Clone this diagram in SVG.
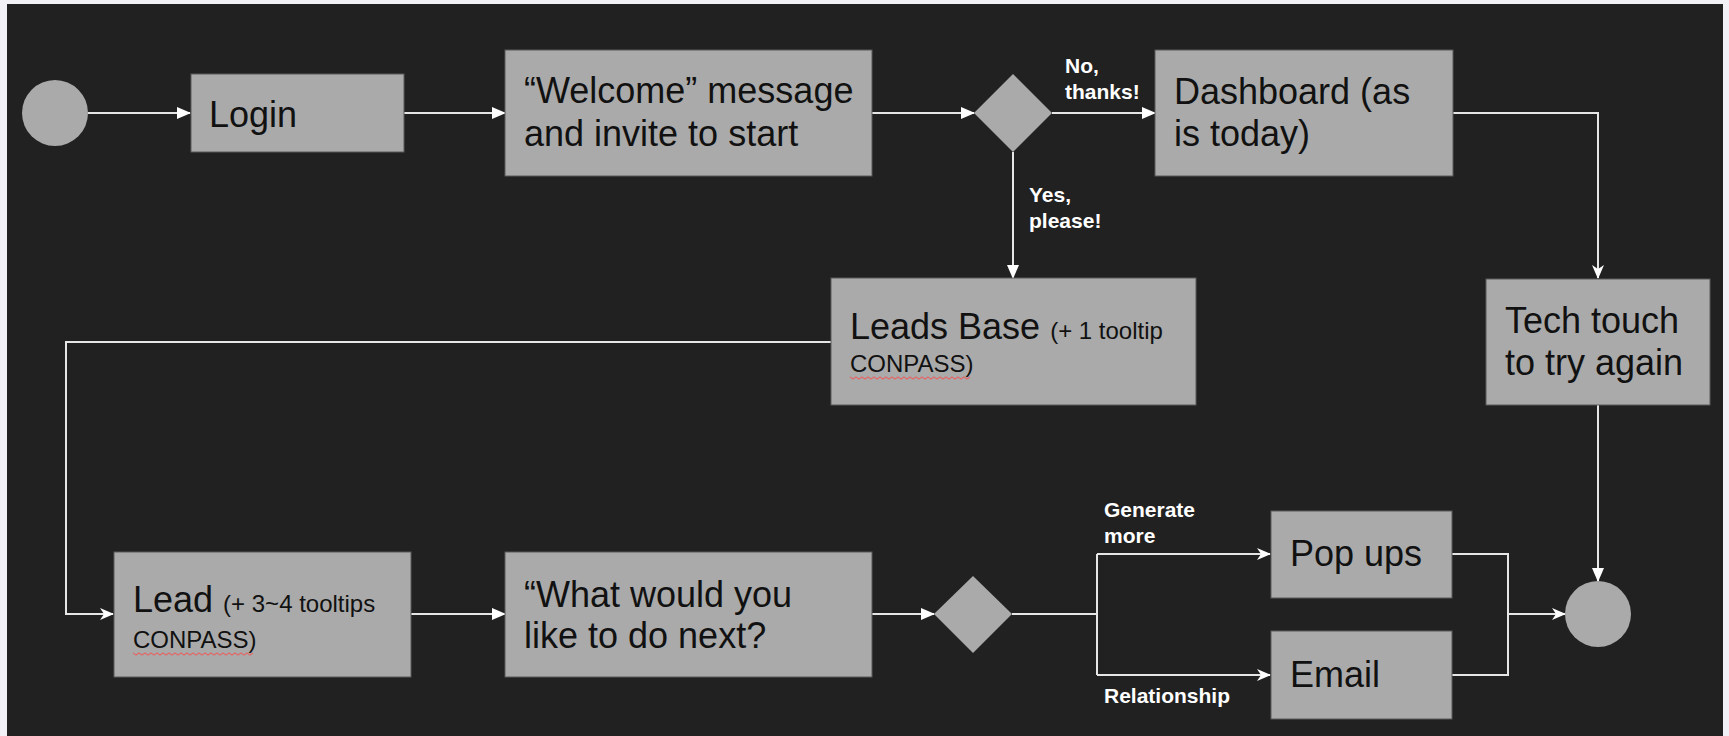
<svg xmlns="http://www.w3.org/2000/svg" width="1729" height="736" viewBox="0 0 1729 736">
<defs>
<style>
.box{fill:#aaaaaa;stroke:#5a5a5a;stroke-width:1}
.term{fill:#aaaaaa}
.t{font-family:"Liberation Sans",Arial,sans-serif;font-size:36px;fill:#111111}
.s{font-size:24px}
.lbl{font-family:"Liberation Sans",Arial,sans-serif;font-size:21px;font-weight:bold;fill:#ffffff}
.c{fill:none;stroke:#e6e6e6;stroke-width:2}
.a{marker-end:url(#tri)}
.st{marker-end:url(#stealth)}
.wave{fill:none;stroke:#e06a6a;stroke-width:1.2}
</style>
<marker id="tri" viewBox="0 0 14 12" markerWidth="14" markerHeight="12" refX="13" refY="6" orient="auto" markerUnits="userSpaceOnUse">
<path d="M0,0 L14,6 L0,12 z" fill="#ffffff"/>
</marker>
<marker id="stealth" viewBox="0 0 14 12" markerWidth="14" markerHeight="12" refX="13" refY="6" orient="auto" markerUnits="userSpaceOnUse">
<path d="M0,0 L14,6 L0,12 L4,6 z" fill="#ffffff"/>
</marker>
</defs>
<rect x="0" y="0" width="1729" height="736" fill="#f1f1f6"/>
<rect x="7" y="4" width="1716" height="732" fill="#212121"/>

<g id="connectors">
<path class="c a" d="M88,113 H190"/>
<path class="c a" d="M404,113 H505"/>
<path class="c a" d="M872,113 H974"/>
<path class="c a" d="M1052,113 H1155"/>
<path class="c a" d="M1013,152 V278"/>
<path class="c st" d="M1453,113 H1598 V278"/>
<path class="c st" d="M831,342 H66 V614 H113"/>
<path class="c a" d="M411,614 H505"/>
<path class="c a" d="M872,614 H934"/>
<path class="c" d="M1012,614 H1097 M1097,554 V675"/>
<path class="c st" d="M1097,554 H1270"/>
<path class="c st" d="M1097,675 H1270"/>
<path class="c" d="M1452,554 H1508 V675 H1452"/>
<path class="c st" d="M1508,614 H1565"/>
<path class="c a" d="M1598,405 V581"/>
</g>

<g id="labels">
<text class="lbl" x="1065" y="73">No,</text>
<text class="lbl" x="1065" y="99">thanks!</text>
<text class="lbl" x="1029" y="202">Yes,</text>
<text class="lbl" x="1029" y="228">please!</text>
<text class="lbl" x="1104" y="517">Generate</text>
<text class="lbl" x="1104" y="543">more</text>
<text class="lbl" x="1104" y="703">Relationship</text>
</g>

<g id="start"><circle class="term" cx="55" cy="113" r="33"/></g>

<g id="login">
<rect class="box" x="191" y="74" width="213" height="78"/>
<text class="t" x="209" y="127">Login</text>
</g>

<g id="welcome">
<rect class="box" x="505" y="50" width="367" height="126"/>
<text class="t" x="524" y="103">“Welcome” message</text>
<text class="t" x="524" y="146">and invite to start</text>
</g>

<g id="decision1"><path class="term" d="M1013,74 L1052,113 L1013,152 L974,113 z"/></g>

<g id="dashboard">
<rect class="box" x="1155" y="50" width="298" height="126"/>
<text class="t" x="1174" y="104">Dashboard (as</text>
<text class="t" x="1174" y="146">is today)</text>
</g>

<g id="leads-base">
<rect class="box" x="831" y="278" width="365" height="127"/>
<text class="t" x="850" y="339">Leads Base <tspan class="s">(+ 1 tooltip</tspan></text>
<text class="t s" x="850" y="372">CONPASS)</text>
<path class="wave" d="M850,377 l3,2 l3,-2 l3,2 l3,-2 l3,2 l3,-2 l3,2 l3,-2 l3,2 l3,-2 l3,2 l3,-2 l3,2 l3,-2 l3,2 l3,-2 l3,2 l3,-2 l3,2 l3,-2 l3,2 l3,-2 l3,2 l3,-2 l3,2 l3,-2 l3,2 l3,-2 l3,2 l3,-2 l3,2 l3,-2 l3,2 l3,-2 l3,2 l3,-2 l3,2 l3,-2 l3,2 l3,-2"/>
</g>

<g id="tech-touch">
<rect class="box" x="1486" y="279" width="224" height="126"/>
<text class="t" x="1505" y="333">Tech touch</text>
<text class="t" x="1505" y="375">to try again</text>
</g>

<g id="lead">
<rect class="box" x="114" y="552" width="297" height="125"/>
<text class="t" x="133" y="612">Lead <tspan class="s">(+ 3~4 tooltips</tspan></text>
<text class="t s" x="133" y="648">CONPASS)</text>
<path class="wave" d="M133,653 l3,2 l3,-2 l3,2 l3,-2 l3,2 l3,-2 l3,2 l3,-2 l3,2 l3,-2 l3,2 l3,-2 l3,2 l3,-2 l3,2 l3,-2 l3,2 l3,-2 l3,2 l3,-2 l3,2 l3,-2 l3,2 l3,-2 l3,2 l3,-2 l3,2 l3,-2 l3,2 l3,-2 l3,2 l3,-2 l3,2 l3,-2 l3,2 l3,-2 l3,2 l3,-2 l3,2 l3,-2"/>
</g>

<g id="what-next">
<rect class="box" x="505" y="552" width="367" height="125"/>
<text class="t" x="524" y="607">“What would you</text>
<text class="t" x="524" y="648">like to do next?</text>
</g>

<g id="decision2"><path class="term" d="M973,576 L1012,614 L973,653 L934,614 z"/></g>

<g id="pop-ups">
<rect class="box" x="1271" y="511" width="181" height="87"/>
<text class="t" x="1290" y="566">Pop ups</text>
</g>

<g id="email">
<rect class="box" x="1271" y="631" width="181" height="88"/>
<text class="t" x="1290" y="687">Email</text>
</g>

<g id="end"><circle class="term" cx="1598" cy="614" r="33"/></g>
</svg>
